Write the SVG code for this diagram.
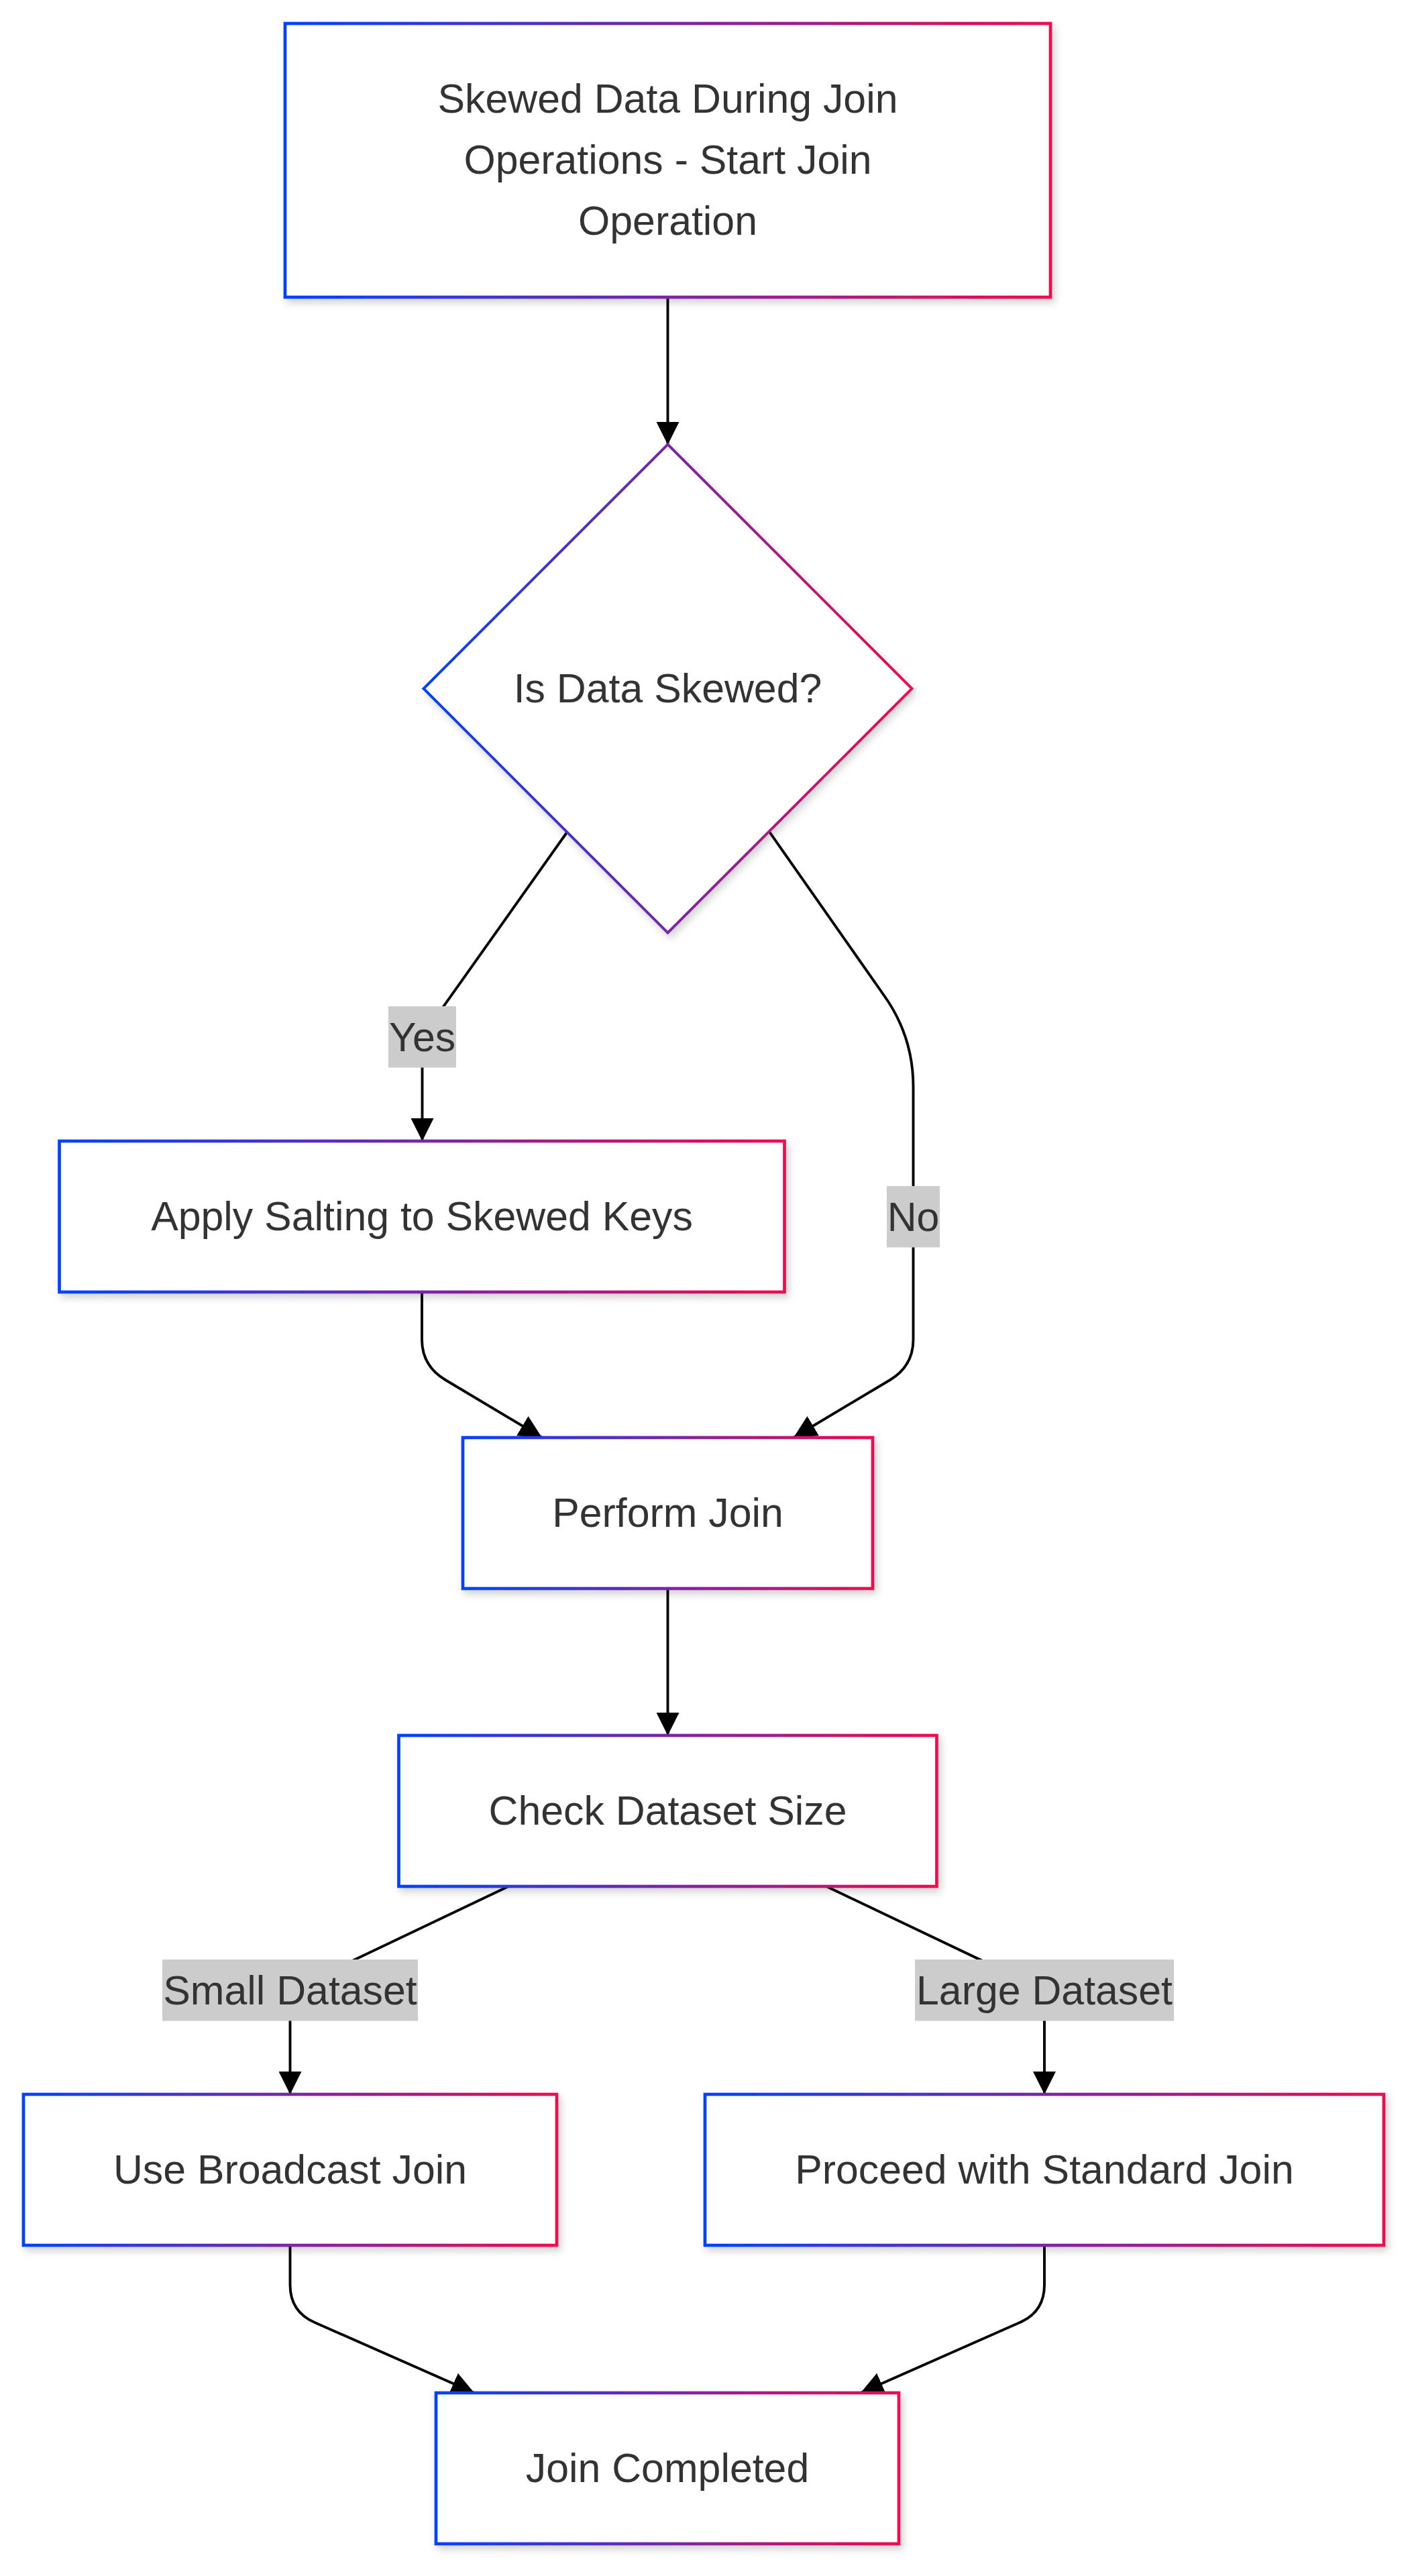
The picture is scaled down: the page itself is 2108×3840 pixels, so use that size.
<svg xmlns="http://www.w3.org/2000/svg" width="2108" height="3840" viewBox="0 0 2108 3840">
  <defs>
    <linearGradient id="grad" x1="0" y1="0" x2="1" y2="0">
      <stop offset="0" stop-color="#0042ff"/>
      <stop offset="1" stop-color="#ef0a4e"/>
    </linearGradient>
    <filter id="shadow" x="-10%" y="-10%" width="130%" height="140%">
      <feDropShadow dx="4" dy="6" stdDeviation="6" flood-color="#000" flood-opacity="0.18"/>
    </filter>
    <marker id="arrow" viewBox="0 0 10 10" refX="10" refY="5" markerUnits="userSpaceOnUse" markerWidth="34" markerHeight="34" orient="auto">
      <path d="M0,0 L10,5 L0,10 z" fill="#000"/>
    </marker>
    <style>
      .node rect, .node polygon { fill: #ffffff; stroke: url(#grad); stroke-width: 4.7; filter: url(#shadow); }
      .node polygon { stroke-width: 4; }
      .node text { font-family: "Liberation Sans", Arial, Helvetica, sans-serif; font-size: 60.8px; fill: #333333; text-anchor: middle; }
      .edge { fill: none; stroke: #000; stroke-width: 3.9; marker-end: url(#arrow); }
      .label rect { fill: #cccccc; }
      .label text { font-family: "Liberation Sans", Arial, Helvetica, sans-serif; font-size: 60.8px; fill: #333333; text-anchor: middle; }
    </style>
  </defs>
  <rect width="2108" height="3840" fill="#ffffff"/>

  <g id="edges">
    <path class="edge" d="M995.5,443 L995.5,663"/>
    <path class="edge" d="M845,1241 L629.5,1545 L629.5,1701"/>
    <path class="edge" d="M1147,1240 L1318,1484 Q1361.5,1545 1361.5,1620 L1361.5,1997 Q1361.5,2036 1327,2057 L1183,2143"/>
    <path class="edge" d="M629,1926 L629,1997 Q629,2036 664,2057 L808,2143"/>
    <path class="edge" d="M995.5,2368 L995.5,2587"/>
    <path class="edge" d="M758,2812 L432.5,2967 L432.5,3122"/>
    <path class="edge" d="M1232,2812 L1557,2967 L1557,3122"/>
    <path class="edge" d="M432.5,3347 L432.5,3406 Q432.5,3446 469,3462 L707,3567"/>
    <path class="edge" d="M1557,3347 L1557,3406 Q1557,3446 1520.5,3462 L1283,3567"/>
  </g>

  <g id="edge-labels">
    <g class="label" id="label-yes">
      <rect x="579" y="1500" width="101" height="91.5"/>
      <text x="629.5" y="1567">Yes</text>
    </g>
    <g class="label" id="label-no">
      <rect x="1322" y="1768" width="79" height="91.5"/>
      <text x="1361.5" y="1835">No</text>
    </g>
    <g class="label" id="label-small">
      <rect x="242" y="2921" width="381" height="91.5"/>
      <text x="432.5" y="2988">Small Dataset</text>
    </g>
    <g class="label" id="label-large">
      <rect x="1364" y="2921" width="386" height="91.5"/>
      <text x="1557" y="2988">Large Dataset</text>
    </g>
  </g>

  <g class="node" id="start">
    <rect x="425" y="35" width="1141" height="408"/>
    <text x="995.5" y="168">Skewed Data During Join</text>
    <text x="995.5" y="259">Operations - Start Join</text>
    <text x="995.5" y="350">Operation</text>
  </g>
  <g class="node" id="decision">
    <polygon points="995.5,662.5 1359.5,1026.5 995.5,1390.5 631.5,1026.5"/>
    <text x="995.5" y="1047">Is Data Skewed?</text>
  </g>
  <g class="node" id="salting">
    <rect x="88.5" y="1701" width="1081" height="225"/>
    <text x="629" y="1834">Apply Salting to Skewed Keys</text>
  </g>
  <g class="node" id="perform">
    <rect x="690" y="2143" width="611" height="225"/>
    <text x="995.5" y="2276">Perform Join</text>
  </g>
  <g class="node" id="check">
    <rect x="594.5" y="2587" width="802" height="225"/>
    <text x="995.5" y="2720">Check Dataset Size</text>
  </g>
  <g class="node" id="broadcast">
    <rect x="35" y="3122" width="795" height="225"/>
    <text x="432.5" y="3255">Use Broadcast Join</text>
  </g>
  <g class="node" id="standard">
    <rect x="1051" y="3122" width="1012" height="225"/>
    <text x="1557" y="3255">Proceed with Standard Join</text>
  </g>
  <g class="node" id="completed">
    <rect x="650" y="3567" width="690" height="225"/>
    <text x="995" y="3700">Join Completed</text>
  </g>
</svg>
